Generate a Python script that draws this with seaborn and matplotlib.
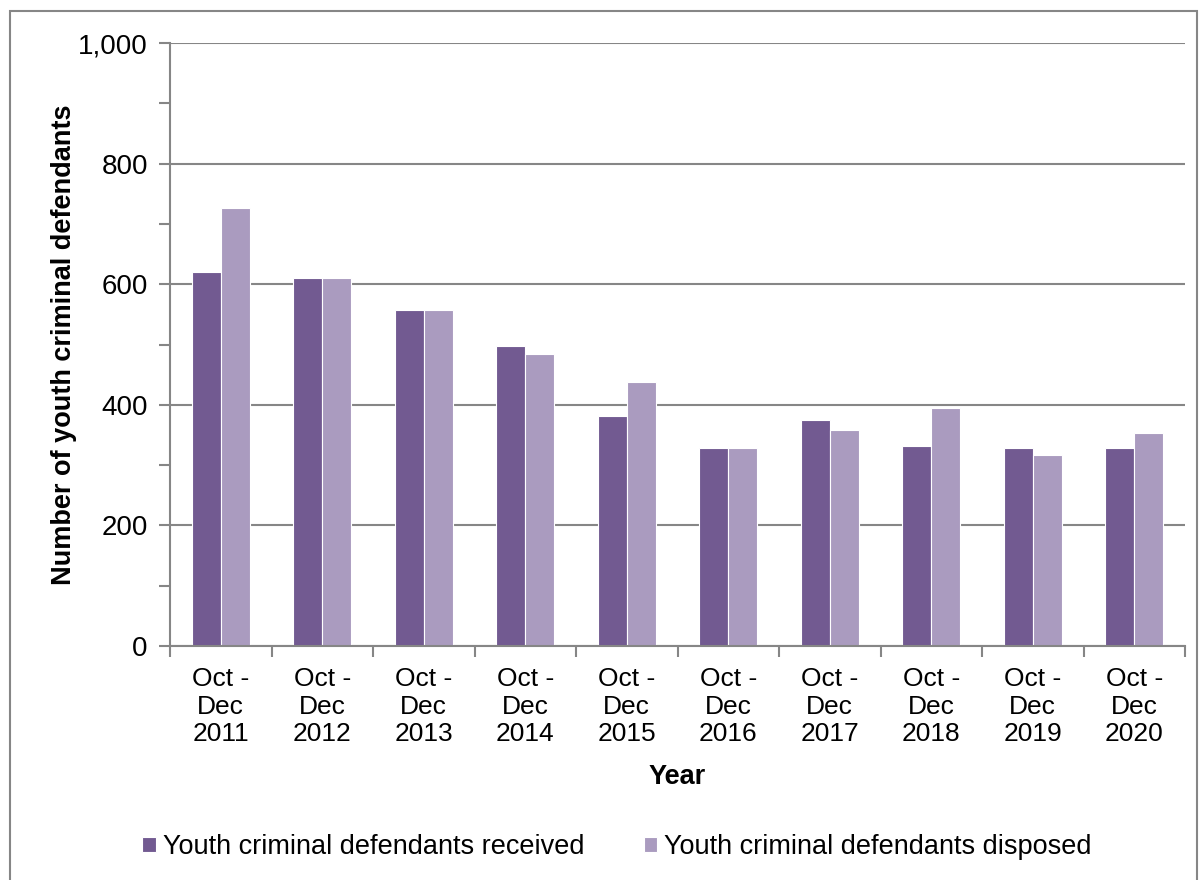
import matplotlib
matplotlib.use("Agg")
import matplotlib.pyplot as plt
import seaborn as sns
import pandas as pd
from matplotlib.patches import Rectangle
from matplotlib.ticker import MultipleLocator, FixedLocator, FuncFormatter

years = ["2011", "2012", "2013", "2014", "2015", "2016", "2017", "2018", "2019", "2020"]
categories = [f"Oct -\nDec\n{y}" for y in years]
received = [621, 610, 558, 497, 381, 328, 374, 331, 328, 328]
disposed = [727, 610, 558, 484, 437, 328, 359, 395, 317, 353]
series_names = ["Youth criminal defendants received", "Youth criminal defendants disposed"]
colors = ["#725a91", "#aa9bbf"]

df = pd.DataFrame({
    "cat": categories * 2,
    "value": received + disposed,
    "series": [series_names[0]] * len(categories) + [series_names[1]] * len(categories),
})

sns.set_theme(style="white")
plt.rcParams["font.family"] = ["Liberation Sans", "DejaVu Sans"]
plt.rcParams["text.color"] = "black"
plt.rcParams["axes.labelcolor"] = "black"
plt.rcParams["xtick.color"] = "black"
plt.rcParams["ytick.color"] = "black"

fig = plt.figure(figsize=(12, 8.8), dpi=100)
ax = fig.add_axes([170 / 1200, 1 - 646 / 880, (1185 - 170) / 1200, (646 - 43) / 880])

sns.barplot(data=df, x="cat", y="value", hue="series", palette=colors,
            width=0.57, ax=ax, saturation=1, edgecolor="white", linewidth=0.8,
            legend=True)

grey = "#868686"
ax.set_ylim(0, 1000)
ax.set_xlim(-0.5, len(categories) - 0.5)
ax.yaxis.set_major_locator(MultipleLocator(200))
ax.yaxis.set_minor_locator(MultipleLocator(100))
ax.yaxis.set_major_formatter(FuncFormatter(lambda v, p: f"{int(v):,}"))
ax.grid(axis="y", which="major", color=grey, linewidth=1.5)
ax.set_axisbelow(True)
for s in ["top", "right"]:
    ax.spines[s].set_visible(False)
for s in ["left", "bottom"]:
    ax.spines[s].set_color(grey)
    ax.spines[s].set_linewidth(1.5)

ax.tick_params(axis="y", which="major", length=8, width=1.5, color=grey, labelcolor="black",
               labelsize=20, pad=8, left=True)
ax.tick_params(axis="y", which="minor", length=8, width=1.5, color=grey, left=True)
ax.xaxis.set_minor_locator(FixedLocator([i - 0.5 for i in range(len(categories) + 1)]))
ax.tick_params(axis="x", which="major", length=0, labelsize=19, labelcolor="black", pad=15)
ax.tick_params(axis="x", which="minor", length=8, width=1.5, color=grey, bottom=True)
for lab in ax.get_xticklabels():
    lab.set_linespacing(1.2)

ax.set_ylabel("Number of youth criminal defendants", fontsize=19.5, fontweight="bold",
              labelpad=1, color="black")
ax.set_xlabel("Year", fontsize=19.5, fontweight="bold", labelpad=13, color="black")

handles, labels = ax.get_legend_handles_labels()
ax.legend(handles, labels, loc="center", bbox_to_anchor=(617 / 1200, 1 - 847 / 880),
          bbox_transform=fig.transFigure,
          ncol=2, frameon=False, fontsize=19.5, handlelength=0.5, handleheight=0.5,
          handletextpad=0.25, columnspacing=2.2)

fig.patches.append(Rectangle((10 / 1200, -0.01), (1197 - 10) / 1200, 1 - 11 / 880 + 0.01,
                             transform=fig.transFigure, fill=False, edgecolor=grey, linewidth=1.5))

fig.savefig("out.png", dpi=100)
